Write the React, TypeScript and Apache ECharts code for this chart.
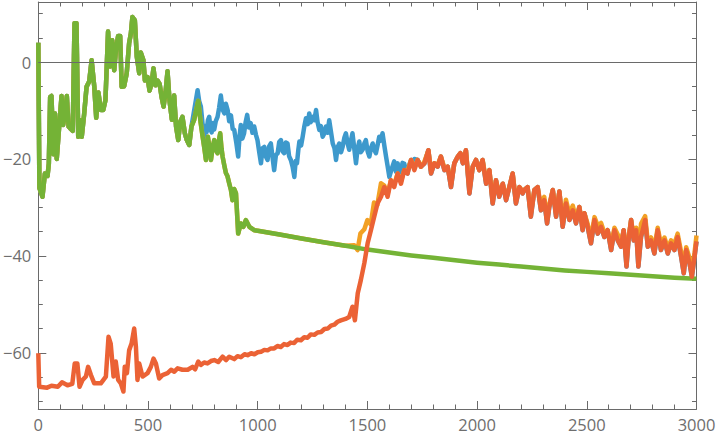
import React, { useEffect, useRef } from "react";
import * as echarts from "echarts";

type Pt = [number, number];

// Shared early trace (series 1-3 coincide here)
const mainTrace: Pt[] = [
  [0, 4], [5, -26], [19, -27.8], [30, -23], [42, -23.5], [48, -21], [54, -7.2], [60, -7], [69, -19], [76, -10.6],
  [84, -20], [95, -13.4], [106, -7], [113, -13], [122, -10.6], [130, -7], [138, -13.3], [148, -13.8], [157, -14.2],
  [165, 8], [174, 8], [182, -15.4], [191, -12], [198, -15.4], [209, -10.7], [220, -5.1], [232, -4], [243, 0.4],
  [255, -5], [264, -11.5], [274, -6.3], [285, -9.9], [296, -9.9], [306, -7.9], [318, 6.3], [327, -0.9], [337, 4.5],
  [346, -1.7], [355, 3], [364, 5.4], [373, 5.4], [380, -5.1], [391, -5], [403, -2.3], [414, 3.9], [422, 5.9],
  [429, 9.3], [440, 8.6], [449, 1.1], [460, -2.3], [467, 2], [479, 0.4], [486, -3.8], [498, -3.1], [507, -5.9],
  [516, -4.5], [525, -1.3], [534, -4.8], [543, -3.8], [553, -4.5], [562, -7.2], [571, -9.2], [580, -6.2],
  [589, -1.9], [598, -7.9], [609, -11.9], [619, -6.9], [628, -13.3], [638, -16.1], [647, -12.3], [657, -11.3],
  [668, -14.7], [677, -16.1], [688, -17.1], [698, -13.3],
];

// Green / orange after the split with blue
const greenMid: Pt[] = [
  [710, -12], [729, -8], [740, -12.5], [749, -15.4], [757, -17.8], [764, -20.2], [773, -15.4], [780, -17.6],
  [787, -20.2], [795, -17.5], [802, -16.1], [810, -18.2], [817, -18.8], [823, -16.2], [829, -14.7], [835, -17.8],
  [840, -19.5], [848, -21.4], [855, -22.9], [862, -23.5], [870, -25], [878, -26.4], [885, -28.5], [893, -26.2],
  [901, -27.1], [911, -35.4], [923, -33.3], [935, -34], [946, -32.6], [962, -34], [984, -34.7],
];

// Smooth decay of the green series
const greenSmooth: Pt[] = [
  [1000, -34.8], [1100, -35.6], [1200, -36.4], [1300, -37.2], [1400, -37.9], [1500, -38.7], [1600, -39.3],
  [1700, -39.9], [1800, -40.4], [1900, -40.9], [2000, -41.4], [2100, -41.8], [2200, -42.2], [2300, -42.6],
  [2400, -43.0], [2500, -43.3], [2600, -43.6], [2700, -43.9], [2800, -44.2], [2900, -44.5], [3000, -44.7],
];

// Blue's own segment
const blueOwn: Pt[] = [
  [726, -5.8], [733, -8], [741, -9.2], [748, -12.5], [755, -16.1], [761, -13.2], [767, -14.5], [773, -12],
  [779, -11.3], [785, -13.8], [790, -14.5], [796, -12.6], [802, -13.9], [809, -12.2], [817, -11.3], [824, -9.5],
  [832, -6.9], [840, -9.8], [848, -10.6], [855, -8.6], [863, -9.9], [870, -12.2], [878, -11], [886, -13.8],
  [893, -14], [902, -16.5], [911, -19.5], [917, -15.5], [923, -13], [930, -15.8], [938, -14.7], [945, -12.4],
  [952, -10.9], [960, -13.5], [968, -12.6], [976, -14.6], [984, -13.3], [992, -15], [999, -16.1], [1007, -18.6],
  [1015, -20.9], [1022, -17.8], [1030, -17.5], [1038, -19.6], [1045, -20.2], [1052, -17.4], [1060, -16.8],
  [1068, -19.8], [1075, -22.3], [1083, -19.2], [1091, -18.8], [1098, -16.5], [1106, -16.1], [1113, -18.4],
  [1121, -18.8], [1128, -16.6], [1136, -16.8], [1143, -19.4], [1151, -20.2], [1159, -21.6], [1167, -23.7],
  [1173, -20.4], [1179, -20.9], [1185, -18.2], [1190, -16.4], [1198, -17.2], [1205, -15.4], [1212, -13.4],
  [1220, -11.6], [1228, -12.8], [1235, -10.6], [1242, -12.4], [1250, -11.3], [1258, -12], [1266, -9.9],
  [1273, -12.4], [1281, -14], [1288, -13.2], [1296, -15.4], [1303, -14.8], [1311, -13.3], [1318, -14.6],
  [1326, -12], [1334, -14.4], [1342, -16.8], [1350, -17.8], [1357, -20.2], [1364, -17.6], [1372, -16.8],
  [1380, -18.6], [1387, -17.5], [1395, -15.6], [1402, -14.7], [1410, -16.8], [1417, -18.1], [1425, -16.2],
  [1432, -14.7], [1440, -17.8], [1448, -20.9], [1455, -18], [1463, -16.4], [1470, -18.6], [1478, -18.1],
  [1486, -16.8], [1493, -16.1], [1501, -18.4], [1509, -19.5], [1516, -17.8], [1524, -16.8], [1532, -18.2],
  [1539, -18.8], [1547, -17], [1554, -15.4], [1562, -16.2], [1569, -14.7], [1577, -17.2], [1585, -19.5],
  [1592, -21.4], [1600, -23.7], [1611, -22], [1622, -20.5], [1630, -22.6], [1638, -20.9], [1645, -22.8],
  [1653, -22.5], [1660, -20.8], [1668, -21], [1676, -22.4], [1683, -23], [1691, -21.2], [1699, -20.2],
  [1706, -21.4], [1714, -20],
];

// Orange's own rise
const orangeRise: Pt[] = [
  [1440, -37.8], [1455, -38.8], [1468, -35.4], [1486, -34.5], [1500, -32.6], [1515, -33.5], [1530, -29],
  [1545, -29.5], [1562, -25],
];

// Red's own early segment
const redTrace: Pt[] = [
  [0, -60.1], [4, -67], [40, -67.2], [60, -66.8], [89, -67], [108, -66.1], [133, -66.7], [155, -66.4],
  [166, -62.2], [178, -62.2], [188, -67], [202, -65.6], [217, -64.9], [227, -62.9], [240, -64.6], [255, -66.3],
  [285, -66.3], [308, -64.9], [320, -56.7], [330, -58.1], [343, -64.9], [353, -61.8], [364, -65.6], [376, -66.3],
  [388, -68], [394, -62.9], [404, -64.2], [414, -59.5], [425, -58.1], [437, -55], [445, -58.8], [452, -65.6],
  [460, -62.2], [475, -64.9], [498, -64.2], [513, -62.9], [525, -61.2], [536, -62.2], [551, -65.3], [566, -64.6],
  [589, -64.2], [605, -63.5], [620, -63.9], [635, -63.2], [657, -63.5], [681, -63.5], [703, -62.9], [715, -63.4],
  [729, -61.8], [741, -62.5], [756, -62], [771, -62.2], [787, -61.7], [802, -61.5], [820, -61.9], [840, -60.8],
  [856, -61.5], [870, -60.8], [893, -61.3], [908, -60.7], [923, -60.9], [940, -60.3], [954, -60.5], [970, -60.1],
  [985, -60.3], [1000, -59.9], [1015, -59.8], [1030, -59.4], [1045, -59.5], [1060, -59.1], [1075, -59.1],
  [1090, -58.6], [1105, -58.8], [1120, -58.2], [1136, -58.4], [1150, -57.9], [1166, -58], [1180, -57.3],
  [1197, -57.4], [1212, -56.8], [1227, -56.9], [1242, -56.2], [1258, -56.3], [1273, -55.8], [1289, -55.7],
  [1304, -55.1], [1319, -55], [1334, -54.4], [1349, -54.2], [1364, -53.6], [1379, -53.3], [1400, -53],
  [1417, -52.6], [1432, -50.5], [1443, -53.3], [1456, -47.7], [1470, -45], [1486, -41.5], [1501, -37.4],
  [1516, -34.7], [1531, -31.9], [1546, -29.2], [1562, -27.8],
];

// Shared noisy tail (red / blue)
const tail: Pt[] = [
  [1577, -25.8], [1592, -27.8], [1607, -24.4], [1622, -25.8], [1638, -23], [1653, -25.1], [1668, -22.3],
  [1683, -23], [1699, -20.2], [1714, -22.3], [1729, -20.2], [1744, -21.6], [1760, -20.9], [1778, -18.2],
  [1790, -23], [1805, -20.9], [1820, -21.6], [1835, -19.5], [1851, -22.3], [1866, -21.6], [1881, -25.8],
  [1896, -20.9], [1912, -19.5], [1924, -18.8], [1935, -20.9], [1949, -18.2], [1965, -27.1], [1980, -21.6],
  [1995, -20.2], [2010, -22.3], [2025, -20.2], [2041, -25.1], [2056, -22.3], [2071, -29.2], [2086, -24.4],
  [2101, -27.8], [2117, -25.1], [2132, -28.5], [2147, -25.8], [2162, -23], [2177, -29.2], [2193, -25.8],
  [2208, -27.1], [2215, -26.4], [2230, -25.8], [2245, -31.9], [2261, -26.4], [2276, -25.8], [2291, -30.6],
  [2306, -28.5], [2319, -33.3], [2329, -29.9], [2345, -26.4], [2360, -31.9], [2375, -26.7], [2390, -34],
  [2405, -29.2], [2421, -32.6], [2436, -30.6], [2451, -33.3], [2466, -29.9], [2481, -34.7], [2489, -31.2],
  [2504, -34], [2519, -37.4], [2535, -32.6], [2550, -35.4], [2565, -34], [2580, -36.1], [2595, -34.7],
  [2611, -38.8], [2626, -34.7], [2641, -36.8], [2656, -38.1], [2668, -34.7], [2681, -42.2], [2690, -36.8],
  [2702, -32.6], [2714, -36.8], [2725, -34.7], [2735, -42.2], [2747, -36.1], [2766, -32.6], [2778, -38.1],
  [2793, -36.8], [2808, -39.5], [2823, -34.7], [2838, -38.8], [2854, -36.8], [2869, -39.5], [2884, -37.4],
  [2899, -38.8], [2914, -36.1], [2930, -40.2], [2942, -43.6], [2953, -38.8], [2968, -41.5], [2979, -44.3],
  [2991, -40.2], [3000, -37],
];

// Orange's tail (close to the red one, slightly different)
const orangeTail: Pt[] = [
  [1577, -25.5], [1592, -27.3], [1607, -24.4], [1622, -25.2], [1638, -23], [1653, -24.6], [1668, -22.3],
  [1683, -22.4], [1699, -20.2], [1714, -21.8], [1729, -20.2], [1744, -21.6], [1760, -20.5], [1778, -18.2],
  [1790, -22.4], [1805, -20.9], [1820, -21.2], [1835, -19.5], [1851, -21.8], [1866, -21.6], [1881, -25.2],
  [1896, -20.9], [1912, -19.5], [1924, -18.8], [1935, -20.5], [1949, -18.2], [1965, -26.4], [1980, -21.6],
  [1995, -20.2], [2010, -22.3], [2025, -20.2], [2041, -24.5], [2056, -22.3], [2071, -28.6], [2086, -24.4],
  [2101, -27.2], [2117, -25.1], [2132, -28], [2147, -25.8], [2162, -23], [2177, -28.6], [2193, -25.8],
  [2208, -26.6], [2215, -26.4], [2230, -25.8], [2245, -31.2], [2261, -26.4], [2276, -25.8], [2291, -29.8],
  [2306, -27.8], [2319, -32.4], [2329, -29.4], [2345, -26.4], [2360, -31.2], [2375, -26.7], [2390, -33.2],
  [2405, -28.4], [2421, -31.4], [2436, -29.6], [2451, -32.4], [2466, -29.9], [2481, -33.8], [2489, -31.2],
  [2504, -33.4], [2519, -36.4], [2535, -32], [2550, -33.8], [2565, -33.2], [2580, -35.2], [2595, -34.7],
  [2611, -37.8], [2626, -34.2], [2641, -35.6], [2656, -37.2], [2668, -34.7], [2681, -41], [2690, -36.2],
  [2702, -32.6], [2714, -36.1], [2725, -34.2], [2735, -40.5], [2747, -33.4], [2766, -31.8], [2778, -37.1],
  [2793, -36.2], [2808, -38.5], [2823, -34.2], [2838, -37.6], [2854, -36.2], [2869, -38.4], [2884, -36.8],
  [2899, -37.6], [2914, -35.4], [2930, -39.2], [2942, -42.5], [2953, -38.2], [2968, -40.4], [2979, -43.2],
  [2991, -39.4], [3000, -35.8],
];

const xMajorTicks = [0, 500, 1000, 1500, 2000, 2500, 3000];
const xMinorTicks = [
  100, 200, 300, 400, 600, 700, 800, 900, 1100, 1200, 1300, 1400, 1600, 1700, 1800, 1900,
  2100, 2200, 2300, 2400, 2600, 2700, 2800, 2900,
];
const yMajorTicks = [-60, -40, -20, 0];
const yMinorTicks = [-70, -65, -55, -50, -45, -35, -30, -25, -15, -10, -5, 5, 10];

const Y_MIN = -71.6;
const Y_MAX = 12.4;

const COLORS = ["#3d99cc", "#f2a024", "#74b336", "#eb6235"];
const AXIS_COLOR = "#6a6a6a";
const LABEL_COLOR = "#6e6e6e";
const LABEL_FONT = "'Open Sans', Roboto, sans-serif";
const LINE_W = 4.5;
const MINUS = "\u2212";

function fmt(v: number | string): string {
  const n = Number(v);
  return n < 0 ? MINUS + String(Math.abs(n)) : String(n);
}

export default function App() {
  const ref = useRef<HTMLDivElement>(null);

  useEffect(() => {
    if (!ref.current) return;
    const chart = echarts.init(ref.current, undefined, { renderer: "svg" });

    const blueData = [...mainTrace, ...blueOwn, ...tail.filter((p) => p[0] > 1714)];
    const orangeData = [
      ...mainTrace,
      ...greenMid,
      ...greenSmooth.filter((p) => p[0] <= 1400),
      ...orangeRise,
      ...orangeTail,
    ];
    const greenData = [...mainTrace, ...greenMid, ...greenSmooth];
    const redData = [...redTrace, ...tail];

    const shownLine = { show: true, onZero: false, lineStyle: { color: AXIS_COLOR, width: 1 } };
    const hiddenLine = { show: false, onZero: false };
    const tickStyle = { color: AXIS_COLOR, width: 1 };

    const xAxisCommon = {
      type: "value" as const,
      min: 0,
      max: 3000,
      splitLine: { show: false },
      gridIndex: 0,
    };
    const yAxisCommon = {
      type: "value" as const,
      min: Y_MIN,
      max: Y_MAX,
      splitLine: { show: false },
      gridIndex: 0,
    };

    const option: any = {
      animation: false,
      grid: { left: 37.5, right: 23.5, top: 2, bottom: 30, containLabel: false },
      xAxis: [
        {
          ...xAxisCommon,
          position: "bottom",
          interval: 500,
          axisLine: shownLine,
          axisTick: { show: true, inside: true, length: 8, customValues: xMajorTicks, lineStyle: tickStyle },
          axisLabel: {
            show: true,
            formatter: (v: number) => fmt(v),
            color: LABEL_COLOR,
            fontSize: 16.5,
            fontFamily: LABEL_FONT,
            margin: 7,
          },
        },
        {
          ...xAxisCommon,
          position: "bottom",
          axisLine: hiddenLine,
          axisTick: { show: true, inside: true, length: 4.5, customValues: xMinorTicks, lineStyle: tickStyle },
          axisLabel: { show: false },
        },
        {
          ...xAxisCommon,
          position: "top",
          axisLine: shownLine,
          axisTick: { show: true, inside: true, length: 8, customValues: xMajorTicks, lineStyle: tickStyle },
          axisLabel: { show: false },
        },
        {
          ...xAxisCommon,
          position: "top",
          axisLine: hiddenLine,
          axisTick: { show: true, inside: true, length: 4.5, customValues: xMinorTicks, lineStyle: tickStyle },
          axisLabel: { show: false },
        },
      ],
      yAxis: [
        {
          ...yAxisCommon,
          position: "left",
          splitNumber: 5,
          axisLine: shownLine,
          axisTick: { show: true, inside: true, length: 8, customValues: yMajorTicks, lineStyle: tickStyle },
          axisLabel: {
            show: true,
            showMinLabel: false,
            showMaxLabel: false,
            formatter: (v: number) => fmt(v),
            color: LABEL_COLOR,
            fontSize: 16.5,
            fontFamily: LABEL_FONT,
            margin: 7,
          },
        },
        {
          ...yAxisCommon,
          position: "left",
          axisLine: hiddenLine,
          axisTick: { show: true, inside: true, length: 4.5, customValues: yMinorTicks, lineStyle: tickStyle },
          axisLabel: { show: false },
        },
        {
          ...yAxisCommon,
          position: "right",
          axisLine: shownLine,
          axisTick: { show: true, inside: true, length: 8, customValues: yMajorTicks, lineStyle: tickStyle },
          axisLabel: { show: false },
        },
        {
          ...yAxisCommon,
          position: "right",
          axisLine: hiddenLine,
          axisTick: { show: true, inside: true, length: 4.5, customValues: yMinorTicks, lineStyle: tickStyle },
          axisLabel: { show: false },
        },
      ],
      series: [
        {
          type: "line",
          name: "s1",
          data: blueData,
          showSymbol: false,
          z: 2,
          lineStyle: { color: COLORS[0], width: LINE_W, join: "round" },
          itemStyle: { color: COLORS[0] },
          markLine: {
            silent: true,
            symbol: "none",
            label: { show: false },
            lineStyle: { color: AXIS_COLOR, width: 1, type: "solid" },
            data: [{ yAxis: 0 }],
          },
        },
        {
          type: "line",
          name: "s2",
          data: orangeData,
          showSymbol: false,
          z: 3,
          lineStyle: { color: COLORS[1], width: LINE_W, join: "round" },
          itemStyle: { color: COLORS[1] },
        },
        {
          type: "line",
          name: "s3",
          data: greenData,
          showSymbol: false,
          z: 4,
          lineStyle: { color: COLORS[2], width: LINE_W, join: "round" },
          itemStyle: { color: COLORS[2] },
        },
        {
          type: "line",
          name: "s4",
          data: redData,
          showSymbol: false,
          z: 5,
          lineStyle: { color: COLORS[3], width: LINE_W, join: "round" },
          itemStyle: { color: COLORS[3] },
        },
      ],
    };

    chart.setOption(option);
    return () => chart.dispose();
  }, []);

  return (
    <div
      ref={ref}
      style={{ position: "absolute", left: 0, top: 0, width: 720, height: 439, background: "#ffffff" }}
    />
  );
}
